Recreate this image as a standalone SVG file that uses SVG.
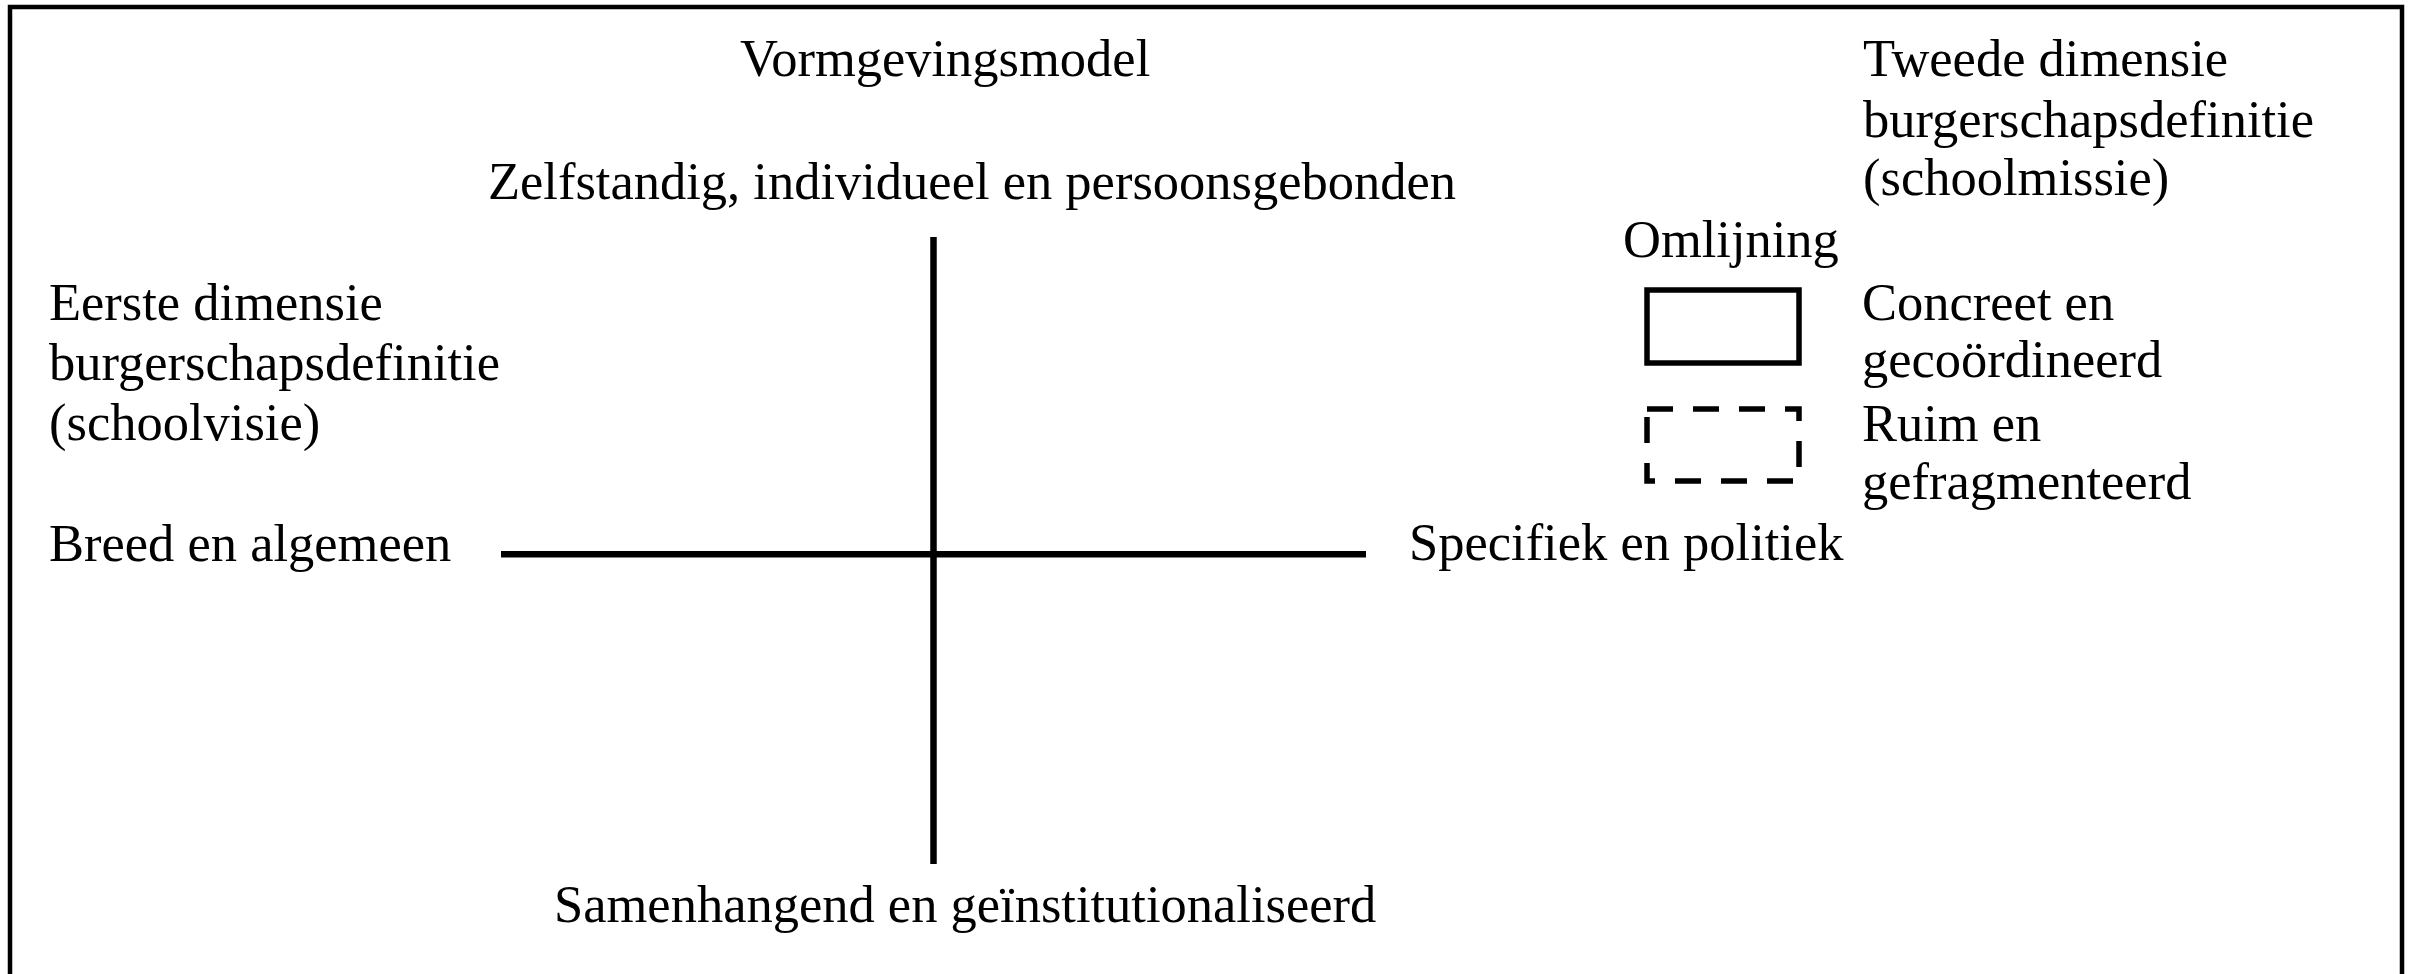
<svg xmlns="http://www.w3.org/2000/svg" width="2413" height="974" viewBox="0 0 2413 974">
  <style>
    text { font-family: "Liberation Serif", "Times New Roman", serif; font-size: 52.5px; fill: #000; }
    .frame { fill: none; stroke: #000; stroke-width: 4.5; }
    .axis { stroke: #000; stroke-width: 6.5; fill: none; }
    .solid { fill: none; stroke: #000; stroke-width: 5.5; }
    .dashed { fill: none; stroke: #000; stroke-width: 5.5; stroke-dasharray: 26 20; }
  </style>
  <rect width="2413" height="974" fill="#fff"/>
  <rect id="frame" class="frame" x="10" y="7" width="2392" height="990"/>

  <g id="connectors">
    <line id="axis-vertical" class="axis" x1="933.5" y1="237" x2="933.5" y2="864"/>
    <line id="axis-horizontal" class="axis" x1="501" y1="554.3" x2="1366" y2="554.3"/>
  </g>

  <g id="title">
    <text x="740" y="76">Vormgevingsmodel</text>
  </g>
  <g id="label-top">
    <text x="488" y="199">Zelfstandig, individueel en persoonsgebonden</text>
  </g>
  <g id="label-bottom">
    <text x="554" y="922">Samenhangend en geïnstitutionaliseerd</text>
  </g>
  <g id="label-left">
    <text x="49" y="561">Breed en algemeen</text>
  </g>
  <g id="label-right">
    <text x="1409" y="560">Specifiek en politiek</text>
  </g>
  <g id="first-dimension">
    <text x="49" y="320">Eerste dimensie</text>
    <text x="49" y="380">burgerschapsdefinitie</text>
    <text x="49" y="440">(schoolvisie)</text>
  </g>
  <g id="second-dimension">
    <text x="1863" y="76">Tweede dimensie</text>
    <text x="1863" y="137">burgerschapsdefinitie</text>
    <text x="1863" y="195">(schoolmissie)</text>
  </g>
  <g id="legend">
    <text x="1623" y="257">Omlijning</text>
    <g id="legend-solid">
      <rect class="solid" x="1647" y="290" width="152" height="73"/>
      <text x="1862" y="320">Concreet en</text>
      <text x="1862" y="377">gecoördineerd</text>
    </g>
    <g id="legend-dashed">
      <rect class="dashed" x="1647" y="409" width="152" height="72"/>
      <text x="1862" y="441">Ruim en</text>
      <text x="1862" y="499">gefragmenteerd</text>
    </g>
  </g>
</svg>
